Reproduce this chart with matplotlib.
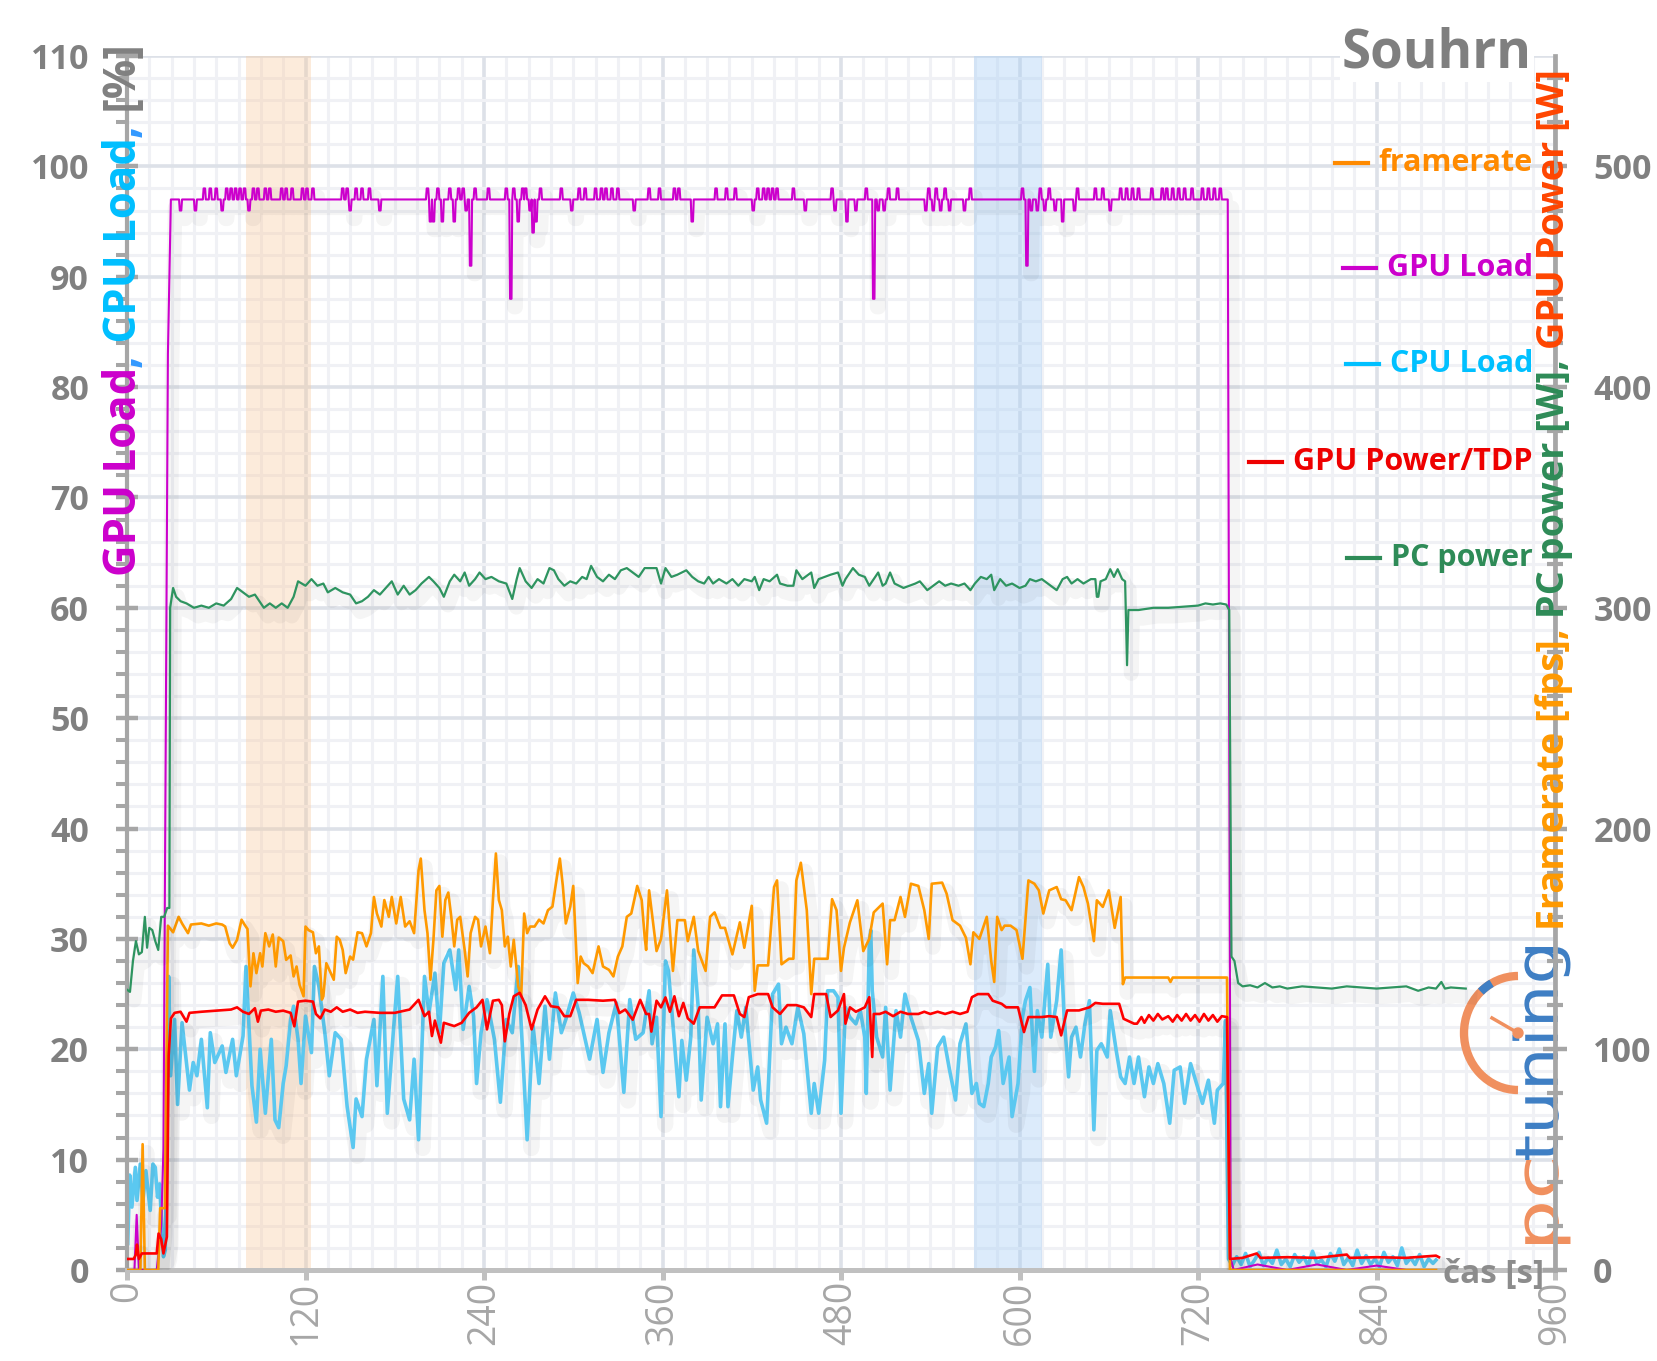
import matplotlib
matplotlib.use('Agg')
import matplotlib.pyplot as plt
import matplotlib.patheffects as pe
from matplotlib.ticker import MultipleLocator
from matplotlib.lines import Line2D
from matplotlib.patches import Arc, Circle, PathPatch
from matplotlib.textpath import TextPath
from matplotlib.font_manager import FontProperties
from matplotlib.transforms import Affine2D, IdentityTransform

W, H = 1658, 1361
plt.rcParams['font.family'] = ['Open Sans', 'DejaVu Sans']

# --- data: (time [s], value) ---
# left axis [%]
gpu_load_start = [(0, 0), (5, 0), (6.5, 5), (8, 0), (20, 0), (23, 4), (24.5, 11), (27.5, 83), (29.5, 97)]
gpu_load_plateau = 97
gpu_load_blips = [
    (36, 96), (46, 96), (52, 98), (56, 98), (60, 98), (64, 96), (67, 98), (70, 98), (73, 98), (76, 98),
    (79, 98), (82, 96), (85, 98), (88, 98), (93, 98), (96, 98), (104, 98), (107, 98), (111, 98), (118, 98),
    (121, 98), (125, 98), (145, 98), (148, 98), (150, 96), (154, 98), (158, 98), (163, 98), (170, 96),
    (202, 98), (204, 95), (206, 95), (209, 98), (212, 95), (217, 98), (220, 95), (223, 98), (226, 98),
    (228, 96), (231, 91), (234, 98), (243, 98), (255, 98), (258, 88), (260, 98), (263, 95), (266, 98),
    (268, 98), (271, 96), (273, 94), (275, 95), (278, 98), (292, 98), (299, 96), (304, 98), (308, 98),
    (315, 98), (319, 98), (322, 98), (326, 98), (330, 98), (341, 96), (351, 98), (358, 98), (368, 98),
    (371, 98), (380, 95), (396, 98), (403, 98), (409, 98), (421, 96), (424, 98), (428, 98), (431, 98),
    (434, 98), (437, 98), (448, 98), (456, 96), (474, 98), (476, 96), (484, 95), (490, 96), (497, 98),
    (502, 88), (505, 96), (509, 96), (512, 98), (518, 98), (537, 96), (539, 98), (542, 96), (544, 98),
    (547, 96), (550, 98), (553, 96), (563, 96), (567, 98), (602, 98), (605, 91), (608, 96), (612, 96),
    (614, 98), (617, 96), (620, 98), (624, 96), (629, 95), (637, 96), (639, 98), (651, 98), (656, 98),
    (661, 96), (668, 98), (672, 98), (676, 98), (680, 98), (689, 98), (696, 98), (699, 98), (703, 98),
    (707, 98), (711, 98), (716, 98), (723, 98), (727, 98), (731, 98), (735, 98)]
gpu_load_end = [(740, 97), (742, 1), (744, 0), (760, 0.5), (780, 0), (800, 0.5), (820, 0), (840, 0.4),
                (860, 0), (880, 0)]

cpu_load = [
    (0.5, 2.4), (1.8, 8.6), (3.3, 5.7), (5.6, 9.3), (6.7, 6.3), (8.9, 9.6), (10.7, 6.3), (12.7, 9.0),
    (15.6, 5.4), (17.4, 9.6), (19, 9.3), (20.5, 6.6), (21.9, 7.8), (24.5, 1.2), (25.7, 1.8), (27, 14),
    (28, 26.6), (29.3, 17.6), (32, 22.7), (34, 15), (37, 22.4), (42, 16.3), (44.5, 18.8), (47, 17.6),
    (50, 20.9), (54, 14.7), (56, 21.5), (59, 18.8), (64, 20.3), (66.5, 17.9), (71, 20.9), (73.5, 17.6),
    (78, 21.2), (80, 27.5), (84, 16.7), (87, 13.4), (89.5, 20), (93, 14.2), (97, 20.9), (99.5, 13.6),
    (102, 12.9), (105, 16.9), (107, 18.5), (110, 22.7), (112, 23.9), (115, 20.9), (117, 16.9), (120, 23),
    (124, 19.7), (126, 27.5), (129, 25.7), (133, 21.5), (136, 17.6), (140, 21.5), (144, 20.9), (148, 14.8),
    (152, 11.1), (154, 15.5), (158, 13.9), (161, 19.1), (166, 22.7), (168, 16.7), (172, 26.6), (175, 14.2),
    (179, 21.5), (182, 26.6), (186, 15.5), (190, 13.6), (193, 19.1), (196, 11.8), (200, 26.6), (203, 23.3),
    (207, 26.9), (210, 21.5), (213, 27.8), (217, 29), (221, 25.4), (223, 29), (226, 21.8), (230, 25.7),
    (233, 23), (235, 16.9), (238, 21.5), (242, 24.5), (247, 20.9), (251, 15.2), (255, 22.7), (259, 21.5),
    (263, 27.5), (269, 11.8), (273, 22.1), (277, 16.9), (281, 23.9), (284, 19.1), (288, 25.1), (292, 21.5),
    (295, 22.7), (300, 25.1), (304, 23.3), (307, 21.5), (311, 19.1), (316, 22.7), (320, 17.9), (324, 21.5),
    (329, 24.2), (334, 16.1), (338, 24.5), (342, 20.9), (347, 21.5), (351, 25.3), (353, 20.5), (356, 22.9),
    (359, 13.9), (362, 28), (364, 27.1), (367, 22.3), (371, 15.7), (373, 20.8), (376, 17.2), (379, 21.1),
    (381, 29), (384, 23.8), (386, 15.4), (390, 22.9), (394, 20.5), (397, 22.3), (399, 14.8), (402, 22.3),
    (404, 14.8), (407, 19.3), (410, 23.5), (413, 21.1), (416, 23.8), (421, 16.3), (424, 18.4), (426, 15.4),
    (430, 13.3), (434, 25), (438, 25.9), (440, 20.5), (443, 22), (447, 20.5), (451, 23.8), (455, 21.4),
    (460, 14.2), (462, 16.9), (465, 14.2), (469, 19), (471, 25.3), (475, 25.3), (478, 24.7), (480, 14.2),
    (483, 23.8), (486, 22.9), (490, 22.3), (493, 23.5), (496, 21.1), (497, 16), (499, 29.6), (500, 30.8),
    (501, 25.3), (504, 21.1), (508, 19.3), (510, 23.8), (513, 16.3), (517, 23.5), (520, 21.1), (523, 25),
    (527, 22.9), (532, 20.8), (536, 16), (539, 18.7), (541, 14.2), (545, 20.2), (549, 21.1), (553, 18.1),
    (557, 15.4), (560, 20.5), (564, 22.3), (568, 16), (571, 16.9), (573, 15.1), (576, 14.8), (579, 16.9),
    (581, 19.3), (584, 20.2), (586, 21.7), (589, 16.9), (593, 19.3), (595, 13.9), (599, 16.9), (602, 22.9),
    (604, 24.4), (607, 25.6), (610, 18), (612, 23.5), (615, 21.1), (619, 27.7), (621, 21.1), (625, 24.4),
    (628, 29), (630, 22.9), (633, 17.5), (635, 21.1), (638, 22), (641, 19.3), (644, 22.3), (647, 24.4),
    (650, 12.7), (652, 19.9), (655, 20.5), (659, 19.3), (661, 23.5), (665, 19.9), (668, 17.5), (671, 16.9),
    (674, 19.3), (677, 16.9), (680, 19.3), (684, 15.7), (687, 18.4), (690, 16.9), (693, 18.7), (697, 16.9),
    (701, 13.3), (704, 18.1), (708, 18.4), (711, 15.1), (715, 18.7), (719, 16.9), (723, 15.1), (727, 17.2),
    (731, 13.3), (733, 16.3), (737, 16.9), (738.5, 22.6), (740.5, 1.0),
    (743, 0.4), (746, 1.2), (749, 0.5), (752, 1.5), (755, 0.3), (758, 0.9), (761, 1.6), (764, 0.4),
    (767, 1.1), (770, 0.6), (773, 1.8), (776, 0.5), (779, 1.0), (782, 0.3), (785, 1.4), (788, 0.7),
    (791, 1.2), (794, 0.4), (797, 1.7), (800, 0.6), (803, 0.9), (806, 0.3), (809, 1.5), (812, 0.8),
    (815, 1.9), (818, 0.5), (821, 1.1), (824, 0.4), (827, 1.8), (830, 0.6), (833, 1.3), (836, 0.5),
    (839, 1.0), (842, 0.3), (845, 1.6), (848, 0.7), (851, 1.2), (854, 0.4), (857, 2.0), (860, 0.6),
    (863, 1.1), (866, 0.5), (869, 1.4), (872, 0.3), (875, 1.0), (878, 0.6), (880, 0.9)]

# right axis [fps] / [W]
framerate = [
    (0, 0), (9, 0), (10.5, 57), (12, 0), (21, 0), (22.3, 28), (25.5, 28), (27.5, 156), (31, 153),
    (34.7, 160), (37, 157), (41, 152.6), (43, 156.5), (50, 157), (55, 156), (60, 157), (64, 156.5),
    (66, 155.6), (69, 148), (71, 146), (74, 149.6), (77, 158.7), (79, 156.5), (81, 154.5), (83, 128.5),
    (85, 143.5), (87, 134.5), (89.5, 143.5), (91, 137.5), (93, 152.6), (95.6, 146.6), (98, 152),
    (100, 137.5), (102, 150.6), (105, 149), (107, 140.5), (110, 142.5), (112, 133), (114, 137.5),
    (116, 129.2), (118.7, 124), (120, 155.6), (122, 154), (125, 153), (127, 143.5), (129, 146.6),
    (131, 122.5), (132, 124), (134, 139), (137, 134.5), (139, 131.5), (141, 151), (143, 149.6), (145, 145),
    (147, 134.5), (150, 142), (152, 140.6), (155, 153), (158, 152.6), (161, 146.6), (164, 152.6),
    (166, 169), (168, 161.5), (171, 155.6), (173, 167.6), (176, 160), (178, 169), (181, 157), (184, 169),
    (187, 155.6), (190, 158), (193, 152.6), (196, 181), (197.5, 186.4), (200, 163), (202, 152.6),
    (204, 131.5), (206, 149.6), (208, 172), (210, 174), (212, 151), (214, 167.6), (216, 171), (218, 160),
    (220, 146.6), (222, 158.7), (224, 160), (227, 145), (229, 133), (231, 152.6), (234, 160), (236, 158.7),
    (238, 146.6), (241, 155.6), (244, 143.5), (246, 167.6), (248, 188.7), (250, 167.6), (252, 163),
    (254, 146.6), (256, 151), (258, 137.5), (260, 149.6), (263, 128.5), (265, 124), (267, 161.5),
    (269, 152.6), (271, 155.6), (274, 155.6), (277, 158.7), (280, 157), (283, 163), (286, 164.6),
    (289, 178), (291, 186.4), (293, 174), (295, 157), (298, 164.6), (300, 174), (303, 130), (305, 142),
    (307, 139), (310, 137.5), (313, 134.5), (317, 146.6), (320, 137.5), (324, 136), (327, 133), (330, 142),
    (333, 146.6), (336, 160), (339, 161.5), (341, 167.6), (343, 174), (346, 167.6), (348, 151), (349, 145),
    (351, 172), (356, 144.5), (359, 150), (363, 172), (367, 135.5), (370, 158.5), (375, 158.5), (377, 149),
    (381, 160), (384, 144.5), (389, 135.5), (392, 160), (395, 162), (399, 155), (402, 155), (407, 143),
    (412, 157.5), (415, 146), (420, 165), (422, 126.5), (424, 138), (431, 138), (435, 173.5), (437, 176.5),
    (440, 138.5), (445, 141), (448, 141), (450, 176.5), (453, 184.5), (457, 163), (460, 125), (462, 141),
    (471, 141), (474, 168), (477, 163), (480, 135.5), (482, 146), (486, 157.5), (491, 167.5), (495, 144.5),
    (499, 150), (502, 162), (508, 166), (511, 138.5), (513, 158.5), (516, 158.5), (520, 169), (523, 160),
    (527, 175), (532, 174), (536, 163), (539, 150), (541, 175), (548, 175.5), (551, 170.5), (555, 158.5),
    (560, 156), (564, 150.5), (567, 138.5), (569, 153), (573, 150), (578, 160), (581, 140), (583, 130.5),
    (585, 160), (588, 154), (590, 156), (594, 156), (598, 154), (602, 141), (606, 176.5), (610, 175),
    (613, 172), (616, 161.5), (620, 172), (625, 173.5), (628, 168), (631, 167.5), (635, 163), (640, 178),
    (643, 173.5), (646, 166), (650, 149), (652, 167.5), (656, 164.5), (660, 172), (664, 155), (668, 169),
    (669.5, 129.5), (671, 132.5), (700, 132.5), (701.5, 130.5), (703, 132.5), (739.5, 132.5), (741.5, 0),
    (880, 0)]

gpu_power = [
    (0, 5), (4.5, 5), (6, 7), (6.7, 11.5), (8, 5), (10, 7.5), (15, 7.5), (20, 7.5), (21.2, 16.5), (23, 14),
    (24.5, 7.5), (26.8, 15), (28, 97), (29.5, 114), (32, 116.5), (36, 117), (40, 112.5), (42, 116.5),
    (50, 117), (60, 117.5), (70, 118), (74, 119), (78, 117), (82, 116), (86, 118.6), (88, 112.5),
    (90, 117.5), (95, 118), (100, 117), (105, 117.5), (110, 116.5), (112.5, 110.4), (115, 121.6),
    (120, 122), (125, 121.6), (127, 116), (130, 114), (133, 118), (137, 117), (141, 119), (145, 117),
    (150, 118), (155, 116.5), (160, 117), (170, 116.5), (180, 116.5), (190, 118), (196, 122.4), (200, 115),
    (203, 117), (205, 106), (207, 113), (211, 103), (213, 112), (220, 110.5), (225, 112), (230, 116.5),
    (235, 119), (239, 122.4), (242, 109), (246, 122), (250, 122.4), (252, 120), (254, 103.6), (257, 116),
    (260, 124), (264, 125.6), (268, 120), (272, 109), (276, 118), (281, 124), (285, 119.5), (290, 119),
    (294, 115), (298, 115), (302, 122.4), (310, 122.4), (320, 122), (328, 122.4), (331, 116.4), (335, 118),
    (340, 113.4), (345, 122.4), (349, 116), (351, 116), (352.5, 108), (356, 122), (359, 119), (362, 123.5),
    (365, 117), (368, 124), (371, 115), (374, 121), (377, 114), (381, 111.6), (385, 119), (390, 119),
    (395, 119), (400, 124.4), (404, 124.4), (408, 124.4), (412, 116), (415, 114.6), (418, 123.6),
    (424, 125), (431, 125), (434, 119), (439, 116), (444, 120), (450, 120), (455, 119), (460, 114.6),
    (462, 125), (470, 125), (473, 114.6), (478, 117.6), (482, 125), (483, 111.6), (486, 119), (490, 117),
    (496, 119), (499, 123.6), (501, 96.5), (502, 116), (506, 116), (510, 117), (515, 115), (520, 117),
    (525, 116), (532, 116), (536, 117), (540, 116), (545, 117), (550, 116), (555, 117), (560, 116),
    (565, 117), (568, 123.6), (572, 125), (579, 125), (582, 122), (588, 120.6), (591, 119), (599, 119),
    (603, 107.8), (606, 114.6), (615, 114.6), (620, 115), (625, 114.6), (628, 106.3), (632, 117.6),
    (640, 117.6), (647, 119), (651, 121), (656, 120.6), (667, 120.6), (670, 113.8), (677, 111.6),
    (679, 111.6), (682, 114.6), (684, 112), (687, 115.5), (690, 113), (693, 116), (696, 113.5), (700, 115),
    (703, 112.5), (706, 115.5), (709, 113), (712, 116), (715, 113), (718, 115.5), (721, 112.5), (724, 116),
    (727, 113), (730, 115.5), (733, 112.5), (736, 115), (739.5, 114.6), (741.5, 5), (750, 5.5),
    (759.5, 7.5), (762, 5.5), (780, 5.8), (800, 5.5), (820, 7), (822, 5.5), (840, 5.8), (860, 5.5),
    (880, 6.5), (882, 5.8)]

pc_power = [
    (0, 127), (2, 126), (4, 140), (6, 149), (8, 143), (10, 144), (12, 160), (13.5, 146), (15, 155),
    (17, 154), (19, 149), (21, 145), (23, 160), (25, 160), (27, 164), (28.5, 164), (29, 300), (31, 309),
    (33, 305), (36, 303), (40, 302), (45, 300), (50, 301), (55, 300), (60, 302), (65, 301), (70, 304),
    (74, 309), (78, 307), (82, 305), (86, 306), (89, 303), (92, 300), (96, 302), (100, 300), (104, 302),
    (108, 300), (112, 305), (115, 312), (120, 310), (124, 313), (128, 310), (132, 311), (135, 307),
    (140, 309), (145, 307), (150, 306), (154, 302), (158, 303), (162, 305), (166, 308), (170, 306),
    (174, 309), (178, 312), (182, 306), (186, 310), (190, 306), (194, 308), (198, 311), (203, 314),
    (206, 312), (210, 309), (213, 305), (217, 312), (220, 315), (224, 312), (227, 316), (230, 310),
    (234, 313), (237, 316), (241, 313), (245, 314), (250, 312), (255, 311), (259, 304), (262, 313),
    (264, 318), (268, 312), (272, 309), (276, 313), (280, 311), (284, 318), (287, 317), (290, 313),
    (294, 310), (298, 312), (302, 311), (306, 314), (309, 313), (312, 319), (316, 314), (320, 312),
    (324, 315), (328, 313), (332, 317), (336, 318), (340, 316), (344, 314), (348, 318), (351, 318),
    (356, 318), (359, 311), (362, 318), (366, 314), (370, 315), (376, 317), (380, 314), (384, 312),
    (388, 311), (391, 314), (394, 311), (398, 313), (403, 311), (407, 313), (411, 310), (415, 313),
    (420, 312), (422, 314), (425, 308), (428, 313), (432, 312), (437, 315), (439, 311), (444, 310),
    (448, 310), (450, 317), (454, 313), (458, 315), (460, 316), (462, 309), (465, 313), (469, 314),
    (473, 315), (478, 316), (481, 310), (483, 313), (488, 318), (492, 315), (496, 314), (499, 310),
    (502, 313), (505, 316), (508, 310), (510, 311), (513, 316), (516, 311), (519, 310), (522, 309),
    (526, 310), (530, 311), (533, 312), (538, 308), (542, 310), (546, 312), (550, 310), (554, 311),
    (559, 310), (563, 311), (567, 308), (570, 311), (574, 314), (578, 313), (581, 315), (583, 308),
    (587, 313), (591, 310), (595, 311), (600, 309), (604, 310), (607, 313), (611, 312), (615, 313),
    (619, 311), (625, 308), (629, 313), (632, 314), (635, 311), (639, 313), (643, 311), (648, 313),
    (651, 313), (652, 305), (653, 305), (654.5, 312), (658, 313), (661, 317.5), (663.5, 314),
    (666, 317.5), (669, 313), (671, 312), (672.3, 274), (673.2, 299), (680, 299), (690, 300), (700, 300),
    (710, 300.5), (720, 301), (725, 302), (730, 301.5), (735, 302), (739, 301.5), (741, 299),
    (742.5, 142), (744.5, 140), (747, 130), (750, 128.5), (755, 129), (760, 128), (765, 130), (770, 128),
    (775, 128.5), (780, 127.5), (790, 128.5), (800, 128), (810, 127.5), (820, 128.5), (830, 128),
    (840, 127.5), (850, 128), (860, 128.5), (868, 126.5), (875, 128), (880, 127.5), (883.6, 130.5),
    (886, 127.5), (890, 128), (900, 127.5)]

highlight_orange = (80, 123.5)
highlight_blue = (569.5, 615)

legend_items = ['framerate', 'GPU Load', 'CPU Load', 'GPU Power/TDP', 'PC power']
legend_colors = ['#ff8a00', '#cc00cc', '#00c0ff', '#ee0000', '#2e8b57']
legend_y = [163, 268, 364, 462, 558]   # pixel rows from top


def unzip(pairs):
    return [p[0] for p in pairs], [p[1] for p in pairs]


# GPU load: plateau with the short excursions listed above
gpu_pts = list(gpu_load_start)
for t, v in gpu_load_blips:
    gpu_pts += [(t - 1, gpu_load_plateau), (t - 0.5, v), (t + 0.5, v), (t + 1, gpu_load_plateau)]
gpu_pts += gpu_load_end
gpu_pts.sort(key=lambda p: p[0])

fig = plt.figure(figsize=(W / 100, H / 100), dpi=100)
ax = fig.add_axes([127 / W, 91 / H, 1428 / W, 1214 / H])
ax.set_xlim(0, 960)
ax.set_ylim(0, 110)
ax.patch.set_visible(False)

# grid
ax.xaxis.set_major_locator(MultipleLocator(120))
ax.xaxis.set_minor_locator(MultipleLocator(15))
ax.yaxis.set_major_locator(MultipleLocator(10))
ax.yaxis.set_minor_locator(MultipleLocator(2))
ax.set_axisbelow(True)
ax.grid(which='major', color='#dde1e8', lw=2.6)
ax.grid(which='minor', color='#f0f1f5', lw=2.2)

ax.axvspan(*highlight_orange, color='#f9c89a', alpha=0.35, lw=0, zorder=1)
ax.axvspan(*highlight_blue, color='#a8cff5', alpha=0.4, lw=0, zorder=1)

for s in ['top', 'right']:
    ax.spines[s].set_visible(False)
ax.spines['left'].set_color('#a6a6a6')
ax.spines['left'].set_linewidth(3)
ax.spines['bottom'].set_color('#c0c0c0')
ax.spines['bottom'].set_linewidth(3.6)

ax.tick_params(axis='y', which='major', direction='inout', length=16.5, width=3.2, color='#a6a6a6',
               pad=19, labelsize=24.5, labelcolor='#808080')
ax.tick_params(axis='y', which='minor', direction='out', length=8, width=2.9, color='#a6a6a6')
ax.tick_params(axis='x', which='major', direction='out', length=7, width=3.6, color='#c0c0c0',
               pad=1, labelsize=27, labelcolor='#a6a6a6', labelrotation=90)
ax.tick_params(axis='x', which='minor', length=0)
for lab in ax.get_yticklabels():
    lab.set_fontweight('bold')


def shadow(lw):
    return [pe.SimpleLineShadow(offset=(3, -6), shadow_color='#000000', alpha=0.04, linewidth=lw + 9),
            pe.Normal()]


t, v = unzip(cpu_load)
ax.plot(t, v, color='#5bc8f0', lw=2.6, zorder=2, path_effects=shadow(2.6))
t, v = unzip(gpu_pts)
ax.plot(t, v, color='#cc00cc', lw=1.5, zorder=3, path_effects=shadow(1.5))

ax2 = ax.twinx()
ax2.set_ylim(0, 550)
for s in ['top', 'left', 'bottom']:
    ax2.spines[s].set_visible(False)
ax2.spines['right'].set_color('#a6a6a6')
ax2.spines['right'].set_linewidth(3.4)
ax2.yaxis.set_major_locator(MultipleLocator(100))
ax2.yaxis.set_minor_locator(MultipleLocator(20))
ax2.tick_params(axis='y', which='major', direction='inout', length=17, width=3.2, color='#a6a6a6',
                pad=19, labelsize=24.5, labelcolor='#808080')
ax2.tick_params(axis='y', which='minor', direction='inout', length=12, width=3, color='#a6a6a6')
for lab in ax2.get_yticklabels():
    lab.set_fontweight('bold')

t, v = unzip(framerate)
ax2.plot(t, v, color='#ff9900', lw=1.9, zorder=2, path_effects=shadow(1.9))
t, v = unzip(gpu_power)
ax2.plot(t, v, color='#ff0000', lw=1.9, zorder=2.1, path_effects=shadow(1.9))
t, v = unzip(pc_power)
ax2.plot(t, v, color='#2e9460', lw=1.6, zorder=2.2, path_effects=shadow(1.6))

renderer = fig.canvas.get_renderer()
px = IdentityTransform()


def text_len(s, fp):
    # advance length of s, spaces included
    a = fig.text(0, 0, '|' + s + '|', fontproperties=fp)
    b = fig.text(0, 0, '||', fontproperties=fp)
    w = a.get_window_extent(renderer).width - b.get_window_extent(renderer).width
    a.remove()
    b.remove()
    return w


def vertical_label(x_base, y_start, pieces, fp):
    y = y_start
    for s, c in pieces:
        fig.text(x_base, y, s, transform=px, rotation=90, rotation_mode='anchor', ha='left',
                 va='baseline', color=c, fontproperties=fp)
        y += text_len(s, fp)


fp_left = FontProperties(family='Open Sans', weight='bold', size=31.5)
vertical_label(136, H - 576, [('GPU Load', '#cc00cc'), (',', '#3399ff'), (' CPU Load', '#00bfff'),
                              (',', '#3399ff'), (' [%]', '#808080')], fp_left)
fp_right = FontProperties(family='Open Sans', weight='bold', size=27.3)
vertical_label(1564, H - 930, [('Framerate [fps],', '#ff9900'), (' PC power [W],', '#2e8b57'),
                               (' GPU Power [W]', '#ff4500')], fp_right)

# title and axis name
fig.text(1532 / W, 1 - 67 / H, 'Souhrn', ha='right', va='baseline', fontsize=38, fontweight='bold',
         color='#7f7f7f', bbox=dict(facecolor='white', edgecolor='none', pad=1))
fig.text(1443 / W, 1 - 1283 / H, 'čas [s]', ha='left', va='baseline', fontsize=24, fontweight='bold',
         color='#8c8c8c')

# legend
fp_leg = FontProperties(family='Open Sans', weight='bold', size=22)
for name, col, yy in zip(legend_items, legend_colors, legend_y):
    tx = fig.text(1533 / W, 1 - yy / H, name, ha='right', va='center', color=col, fontproperties=fp_leg)
    bb = tx.get_window_extent(renderer)
    x1 = bb.x0 - 11
    fig.add_artist(Line2D([x1 - 33, x1], [H - yy, H - yy], transform=px, color=col, lw=3))

# pctuning watermark
fp_logo = FontProperties(family='DejaVu Sans')
x_base, y0 = 1558, H - 1244
for word, length, col in [('pc', 84, '#f0905f'), ('tuning', 213, '#3f7fc4')]:
    tp = TextPath((0, 0), word, size=50, prop=fp_logo)
    ext = tp.get_extents()
    tr = Affine2D().translate(-ext.x0, 0).scale(length / ext.width, 1.2).rotate_deg(90).translate(x_base, y0)
    ax2.add_artist(PathPatch(tr.transform_path(tp), transform=px, facecolor=col, edgecolor='none',
                             zorder=1.2, clip_on=False))
    y0 += length
cx, cy = 1518, H - 1033
ax2.add_artist(Arc((cx, cy), 108, 114, theta1=90, theta2=270, transform=px, color='#f0905f', lw=6,
                   zorder=1.2, clip_on=False))
ax2.add_artist(Arc((cx, cy), 108, 114, theta1=118, theta2=132, transform=px, color='#3f7fc4', lw=6,
                   zorder=1.21, clip_on=False))
ax2.add_artist(Line2D([cx, cx - 26], [cy, cy + 15], transform=px, color='#f0905f', lw=2.5, zorder=1.2,
                      clip_on=False))
ax2.add_artist(Circle((cx, cy), 5, transform=px, color='#f0905f', zorder=1.2, clip_on=False))

fig.savefig('out.png', dpi=100, facecolor='white')
